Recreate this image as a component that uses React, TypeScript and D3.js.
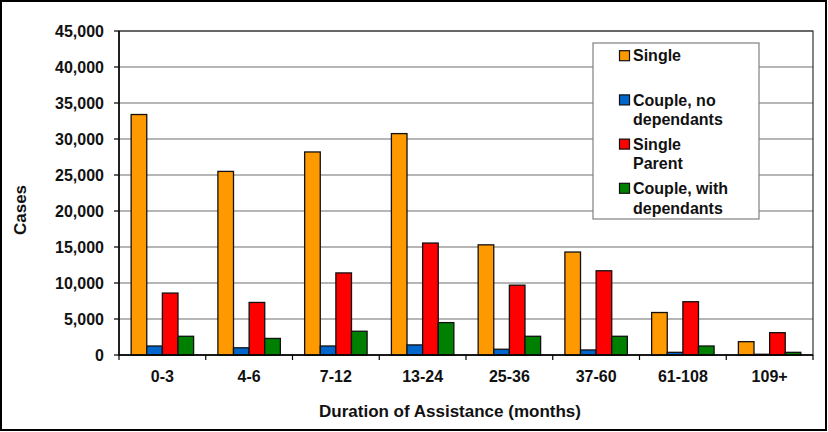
import React from "react";
import * as d3 from "d3";

const categories = ["0-3", "4-6", "7-12", "13-24", "25-36", "37-60", "61-108", "109+"];
const seriesNames = ["Single", "Couple, no dependants", "Single Parent", "Couple, with dependants"];
const legendLines = [["Single"], ["Couple, no", "dependants"], ["Single", "Parent"], ["Couple, with", "dependants"]];
const single = [33400, 25500, 28200, 30750, 15300, 14300, 5900, 1850];
const coupleNoDep = [1250, 1000, 1250, 1400, 800, 700, 370, 100];
const singleParent = [8600, 7300, 11400, 15550, 9700, 11700, 7400, 3100];
const coupleWithDep = [2600, 2300, 3300, 4500, 2600, 2600, 1250, 370];
const yTicks = [0, 5000, 10000, 15000, 20000, 25000, 30000, 35000, 40000, 45000];
const colors = ["#FF9900", "#0066CC", "#FF0000", "#008000"];

const width = 828;
const height = 432;
const margin = { left: 119, right: 15, top: 31, bottom: 77 };
const font = "'Liberation Sans', Arial, sans-serif";

const App: React.FC = () => {
  const values = [single, coupleNoDep, singleParent, coupleWithDep];
  const plotRight = width - margin.right;
  const plotBottom = height - margin.bottom;

  const x0 = d3.scaleBand().domain(categories).range([margin.left, plotRight]).padding(0);
  const gap = x0.bandwidth() * 0.28;
  const x1 = d3
    .scaleBand()
    .domain(seriesNames)
    .range([gap / 2, x0.bandwidth() - gap / 2])
    .padding(0);
  const y = d3.scaleLinear().domain([0, 45000]).range([plotBottom, margin.top]);
  const fmt = d3.format(",");

  const legendX = 593;
  const legendY = 43;

  return (
    <div style={{ position: "absolute", left: 0, top: 0 }}>
      <svg width={width} height={height} style={{ display: "block", background: "#fff" }}>
        {/* gridlines */}
        {yTicks.map((t) => (
          <line key={"g" + t} x1={margin.left} x2={plotRight} y1={y(t)} y2={y(t)} stroke="#6e6e6e" strokeWidth={1.2} />
        ))}
        <rect
          x={margin.left}
          y={margin.top}
          width={plotRight - margin.left}
          height={plotBottom - margin.top}
          fill="none"
          stroke="#333"
          strokeWidth={1.2}
        />

        {/* bars */}
        {categories.map((c, i) => (
          <g key={c} transform={`translate(${x0(c)},0)`}>
            {seriesNames.map((s, j) => (
              <rect
                key={s}
                x={x1(s)}
                y={y(values[j][i])}
                width={x1.bandwidth()}
                height={plotBottom - y(values[j][i])}
                fill={colors[j]}
                stroke="#111"
                strokeWidth={1.3}
              />
            ))}
          </g>
        ))}

        {/* y axis */}
        <line x1={margin.left} x2={margin.left} y1={margin.top} y2={plotBottom} stroke="#000" strokeWidth={1.5} />
        {yTicks.map((t) => (
          <g key={"y" + t}>
            <line x1={margin.left - 5} x2={margin.left} y1={y(t)} y2={y(t)} stroke="#000" strokeWidth={1.2} />
            <text
              x={104}
              y={y(t)}
              dy="0.36em"
              textAnchor="end"
              fontFamily={font}
              fontWeight="bold"
              fontSize={16}
              fill="#111"
            >
              {fmt(t)}
            </text>
          </g>
        ))}

        {/* x axis */}
        <line x1={margin.left} x2={plotRight} y1={plotBottom} y2={plotBottom} stroke="#000" strokeWidth={1.5} />
        {[...categories.map((c) => x0(c) as number), plotRight].map((xv, i) => (
          <line key={"xt" + i} x1={xv} x2={xv} y1={plotBottom} y2={plotBottom + 5} stroke="#000" strokeWidth={1.2} />
        ))}
        {categories.map((c) => (
          <text
            key={"xl" + c}
            x={(x0(c) as number) + x0.bandwidth() / 2}
            y={382}
            textAnchor="middle"
            fontFamily={font}
            fontWeight="bold"
            fontSize={16}
            fill="#111"
          >
            {c}
          </text>
        ))}

        <text x={450} y={417} textAnchor="middle" fontFamily={font} fontWeight="bold" fontSize={17} fill="#111">
          Duration of Assistance (months)
        </text>
        <text
          transform="translate(26,210) rotate(-90)"
          textAnchor="middle"
          fontFamily={font}
          fontWeight="bold"
          fontSize={17}
          fill="#111"
        >
          Cases
        </text>

        {/* legend */}
        <rect x={legendX} y={legendY} width={166} height={176} fill="#fff" stroke="#808080" strokeWidth={1.2} />
        {legendLines.map((lines, j) => {
          const sy = 50.7 + j * 44.2;
          return (
            <g key={"lg" + j}>
              <rect x={619.5} y={sy} width={10} height={10} fill={colors[j]} stroke="#111" strokeWidth={1.2} />
              {lines.map((ln, k) => (
                <text
                  key={k}
                  x={633}
                  y={sy + 5 + k * 19.5}
                  dy="0.36em"
                  fontFamily={font}
                  fontWeight="bold"
                  fontSize={16}
                  fill="#111"
                >
                  {ln}
                </text>
              ))}
            </g>
          );
        })}

        {/* outer border */}
        <rect x={1} y={1} width={width - 3} height={height - 3} fill="none" stroke="#000" strokeWidth={2} />
      </svg>
    </div>
  );
};

export default App;
